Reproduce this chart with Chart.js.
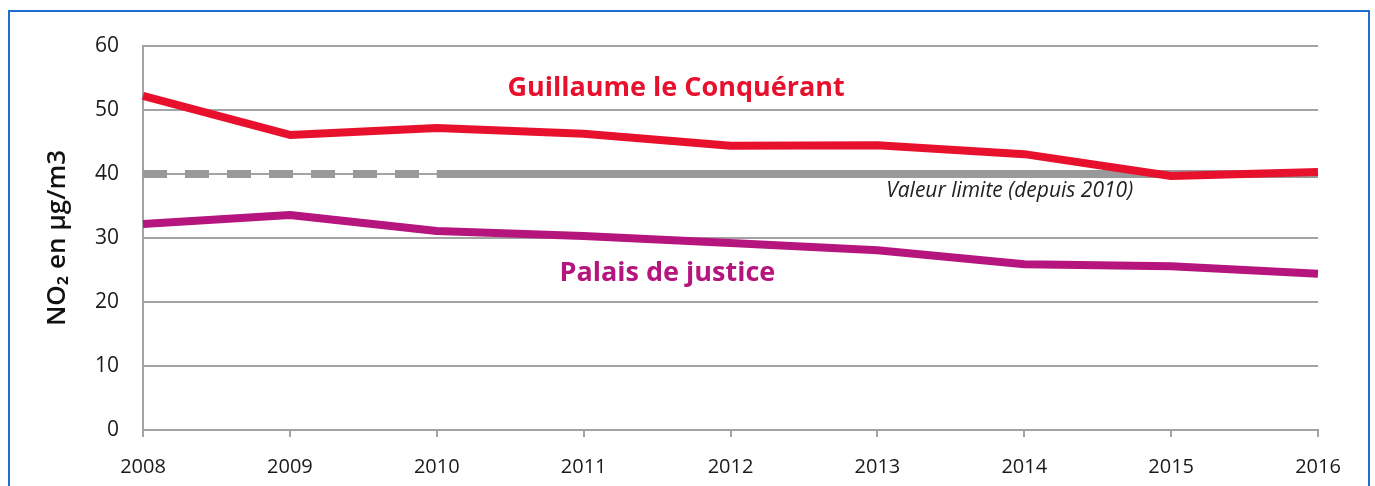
<!DOCTYPE html>
<html lang="fr">
<head>
<meta charset="utf-8">
<title>NO2 en µg/m3</title>
<script src="https://cdn.jsdelivr.net/npm/chart.js@4.4.1/dist/chart.umd.min.js"></script>
<style>
  html, body { margin: 0; padding: 0; background: #fff; }
  body { width: 1375px; height: 486px; position: relative; overflow: hidden; }
  .frame {
    position: absolute; left: 8px; top: 10px; width: 1358px; height: 490px;
    border: 2px solid #1f6fd0; border-bottom: none;
  }
  #no2Chart { position: absolute; left: 0; top: 0; }
</style>
</head>
<body>
<div class="frame"></div>
<canvas id="no2Chart" width="1375" height="486"></canvas>
<script>
const years = ['2008', '2009', '2010', '2011', '2012', '2013', '2014', '2015', '2016'];
const guillaume = [52.2, 46.1, 47.2, 46.3, 44.4, 44.5, 43.1, 39.7, 40.3];
const palais = [32.2, 33.6, 31.1, 30.3, 29.2, 28.1, 25.9, 25.6, 24.4];
const valeurLimite = [40, 40, 40, 40, 40, 40, 40, 40, 40];
const yTicks = [0, 10, 20, 30, 40, 50, 60];

// labels written straight on the plot: [text, x index, y value, colour, font, align]
const plotLabels = [
    ['Guillaume le Conquérant', 3.63, 53.4, '#e8112d', 'bold 27px "Open Sans"', 'center'],
    ['Palais de justice', 3.57, 24.5, '#b5157c', 'bold 27px "Open Sans"', 'center'],
    ['Valeur limite (depuis 2010)', 5.06, 37.3, '#222', 'italic 21px "Open Sans"', 'left']
];

const gridGray = '#a3a3a3';

const plotLabelsPlugin = {
    id: 'plotLabels',
    afterDatasetsDraw(chart) {
        const { ctx, scales: { x, y } } = chart;
        ctx.save();
        ctx.textBaseline = 'middle';
        plotLabels.forEach(([text, xi, yv, color, font, align]) => {
            ctx.font = font;
            ctx.fillStyle = color;
            ctx.textAlign = align;
            ctx.fillText(text, x.getPixelForValue(xi), y.getPixelForValue(yv));
        });
        ctx.restore();
    }
};

new Chart(document.getElementById('no2Chart'), {
    type: 'line',
    data: {
        labels: years,
        datasets: [
            {
                label: 'Valeur limite',
                data: valeurLimite,
                borderColor: '#999999',
                borderWidth: 8,
                borderCapStyle: 'butt',
                pointRadius: 0,
                segment: {
                    borderDash: ctx => ctx.p0DataIndex < 2 ? [24, 18] : undefined
                },
                order: 3
            },
            {
                label: 'Palais de justice',
                data: palais,
                borderColor: '#b5157c',
                borderWidth: 8,
                borderJoinStyle: 'round',
                pointRadius: 0,
                order: 2
            },
            {
                label: 'Guillaume le Conquérant',
                data: guillaume,
                borderColor: '#e8112d',
                borderWidth: 8,
                borderJoinStyle: 'round',
                pointRadius: 0,
                order: 1
            }
        ]
    },
    options: {
        responsive: false,
        animation: false,
        layout: { padding: { left: 0, top: 46, right: 57, bottom: 0 } },
        plugins: {
            legend: { display: false },
            tooltip: { enabled: false }
        },
        scales: {
            x: {
                offset: false,
                afterFit: scale => { scale.height = 56; },
                grid: {
                    drawOnChartArea: false,
                    drawTicks: true,
                    tickLength: 7,
                    color: gridGray,
                    lineWidth: 2
                },
                border: { color: gridGray, width: 2 },
                ticks: {
                    color: '#1a1a1a',
                    font: { family: '"Open Sans"', size: 20 },
                    padding: 18,
                    maxRotation: 0
                }
            },
            y: {
                min: 0,
                max: 60,
                afterFit: scale => { scale.width = 143; },
                afterBuildTicks: scale => { scale.ticks = yTicks.map(v => ({ value: v })); },
                grid: { drawTicks: false, color: gridGray, lineWidth: 2 },
                border: { color: gridGray, width: 2 },
                ticks: {
                    color: '#1a1a1a',
                    font: { family: '"Open Sans"', size: 21 },
                    padding: 24
                },
                title: {
                    display: true,
                    text: 'NO₂ en µg/m3',
                    color: '#111',
                    font: { family: '"Open Sans"', size: 26, weight: '600' },
                    padding: { top: 42, bottom: 0 }
                }
            }
        }
    },
    plugins: [plotLabelsPlugin]
});
</script>
</body>
</html>
